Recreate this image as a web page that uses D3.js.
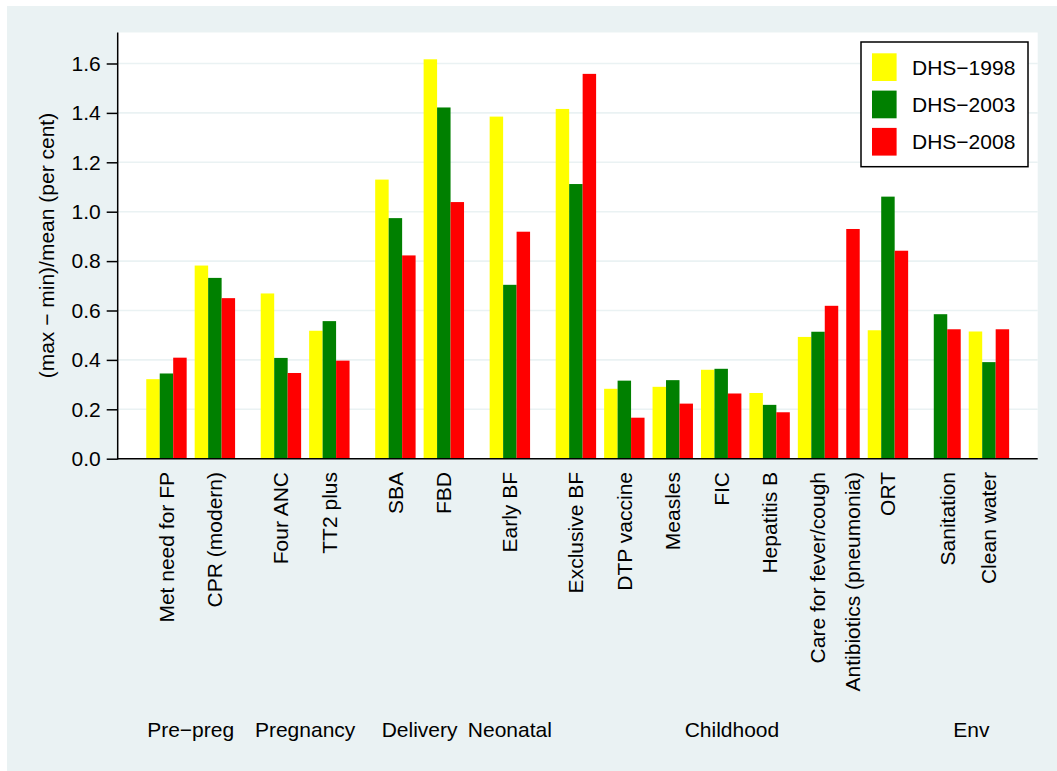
<!DOCTYPE html>
<html>
<head>
<meta charset="utf-8">
<script src="https://cdn.jsdelivr.net/npm/d3@7"></script>
<style>
  html, body { margin: 0; padding: 0; background: #ffffff; }
  svg { display: block; font-family: "Liberation Sans", Arial, Helvetica, sans-serif; }
</style>
</head>
<body>
<svg id="chart" width="1057" height="771"></svg>
<script>
// ---------------- data ----------------
const categories = ["Met need for FP", "CPR (modern)", "Four ANC", "TT2 plus", "SBA", "FBD",
  "Early BF", "Exclusive BF", "DTP vaccine", "Measles", "FIC", "Hepatitis B",
  "Care for fever/cough", "Antibiotics (pneumonia)", "ORT", "Sanitation", "Clean water"];
const stages = ["Pre\u2212preg", "Pre\u2212preg", "Pregnancy", "Pregnancy", "Delivery", "Delivery",
  "Neonatal", "Childhood", "Childhood", "Childhood", "Childhood", "Childhood",
  "Childhood", "Childhood", "Childhood", "Env", "Env"];
const seriesNames = ["DHS\u22121998", "DHS\u22122003", "DHS\u22122008"];
const dhs1998 = [0.322, 0.782, 0.669, 0.518, 1.130, 1.617, 1.385, 1.416, 0.283, 0.291, 0.360, 0.266, 0.493, null, 0.520, null, 0.515];
const dhs2003 = [0.345, 0.732, 0.408, 0.557, 0.974, 1.422, 0.704, 1.112, 0.316, 0.318, 0.364, 0.218, 0.514, null, 1.061, 0.585, 0.391];
const dhs2008 = [0.409, 0.650, 0.347, 0.397, 0.823, 1.039, 0.919, 1.558, 0.166, 0.223, 0.264, 0.188, 0.619, 0.930, 0.842, 0.524, 0.524];
const yTicks = [0, 0.2, 0.4, 0.6, 0.8, 1.0, 1.2, 1.4, 1.6];
const yTitle = "(max \u2212 min)/mean (per cent)";
const seriesColors = ["#ffff00", "#008000", "#ff0000"];

// ---------------- layout ----------------
const W = 1057, H = 771;
const plot = { left: 117.7, right: 1037.7, top: 32.5, bottom: 458.7 };
const yMax = 1.7255;
const fontSize = 21;

// unit layout: each bar = 1 unit
const gapIn = 0.595, gapStage = 1.903, gapOuter = 2.12;
const seriesValues = [dhs1998, dhs2003, dhs2008];
const bars = [];
const catInfo = [];
const stageInfo = [];
let u = gapOuter;
categories.forEach((c, i) => {
  if (i > 0) u += (stages[i] === stages[i - 1]) ? gapIn : gapStage;
  const start = u;
  seriesValues.forEach((vals, s) => {
    if (vals[i] != null) {
      bars.push({ cat: c, series: s, value: vals[i], u0: u });
      u += 1;
    }
  });
  catInfo.push({ name: c, u0: start, u1: u });
  const last = stageInfo[stageInfo.length - 1];
  if (last && last.name === stages[i]) last.u1 = u;
  else stageInfo.push({ name: stages[i], u0: start, u1: u });
});
const totalUnits = u + gapOuter;

const x = d3.scaleLinear().domain([0, totalUnits]).range([plot.left, plot.right]);
const y = d3.scaleLinear().domain([0, yMax]).range([plot.bottom, plot.top]);

const svg = d3.select("#chart");

// background
svg.append("rect").attr("x", 0).attr("y", 0).attr("width", W).attr("height", H).attr("fill", "#ffffff");
svg.append("rect").attr("x", 7).attr("y", 6).attr("width", W - 7).attr("height", H - 6).attr("fill", "#eaf2f3");
svg.append("rect").attr("x", plot.left).attr("y", plot.top)
  .attr("width", plot.right - plot.left).attr("height", plot.bottom - plot.top).attr("fill", "#ffffff");

// gridlines
svg.append("g").selectAll("line").data(yTicks.filter(t => t > 0)).join("line")
  .attr("x1", plot.left).attr("x2", plot.right)
  .attr("y1", d => y(d)).attr("y2", d => y(d))
  .attr("stroke", "#eaf2f3").attr("stroke-width", 1.6);

// bars
svg.append("g").selectAll("rect").data(bars).join("rect")
  .attr("x", d => x(d.u0))
  .attr("width", d => x(d.u0 + 1) - x(d.u0))
  .attr("y", d => y(d.value))
  .attr("height", d => y(0) - y(d.value))
  .attr("fill", d => seriesColors[d.series]);

// y axis
const yAxis = d3.axisLeft(y).tickValues(yTicks).tickFormat(d3.format(".1f")).tickSize(11).tickPadding(6);
const gy = svg.append("g").attr("transform", `translate(${plot.left},0)`).call(yAxis);
gy.select(".domain").remove();
gy.selectAll(".tick line").attr("stroke", "#000").attr("stroke-width", 1.5);
gy.selectAll(".tick text").attr("font-size", fontSize).attr("fill", "#000")
  .attr("font-family", "Liberation Sans, Arial, sans-serif");
svg.append("line").attr("x1", plot.left).attr("x2", plot.left)
  .attr("y1", plot.top).attr("y2", plot.bottom + 0.75)
  .attr("stroke", "#000").attr("stroke-width", 1.5);
// x axis line
svg.append("line").attr("x1", plot.left).attr("x2", plot.right)
  .attr("y1", plot.bottom).attr("y2", plot.bottom)
  .attr("stroke", "#000").attr("stroke-width", 1.6);

// y title
svg.append("text")
  .attr("transform", `translate(54,${(plot.top + plot.bottom) / 2}) rotate(-90)`)
  .attr("text-anchor", "middle").attr("font-size", fontSize).attr("fill", "#000")
  .text(yTitle);

// category labels (rotated)
svg.append("g").selectAll("text").data(catInfo).join("text")
  .attr("transform", d => `translate(${x((d.u0 + d.u1) / 2)},472) rotate(-90)`)
  .attr("text-anchor", "end").attr("dy", "0.35em")
  .attr("font-size", fontSize).attr("fill", "#000")
  .text(d => d.name);

// stage labels
svg.append("g").selectAll("text").data(stageInfo).join("text")
  .attr("x", d => x((d.u0 + d.u1) / 2)).attr("y", 736.5)
  .attr("text-anchor", "middle").attr("font-size", fontSize).attr("fill", "#000")
  .text(d => d.name);

// legend
const lg = svg.append("g");
lg.append("rect").attr("x", 861).attr("y", 42).attr("width", 167).attr("height", 124.7)
  .attr("fill", "#ffffff").attr("stroke", "#000").attr("stroke-width", 1.5);
seriesNames.forEach((name, i) => {
  const ry = 53.3 + i * 37.3;
  lg.append("rect").attr("x", 872).attr("y", ry).attr("width", 24.6).attr("height", 27.7)
    .attr("fill", seriesColors[i]);
  lg.append("text").attr("x", 912).attr("y", ry + 13.85).attr("dy", "0.35em")
    .attr("font-size", fontSize).attr("fill", "#000").text(name);
});
</script>
</body>
</html>
